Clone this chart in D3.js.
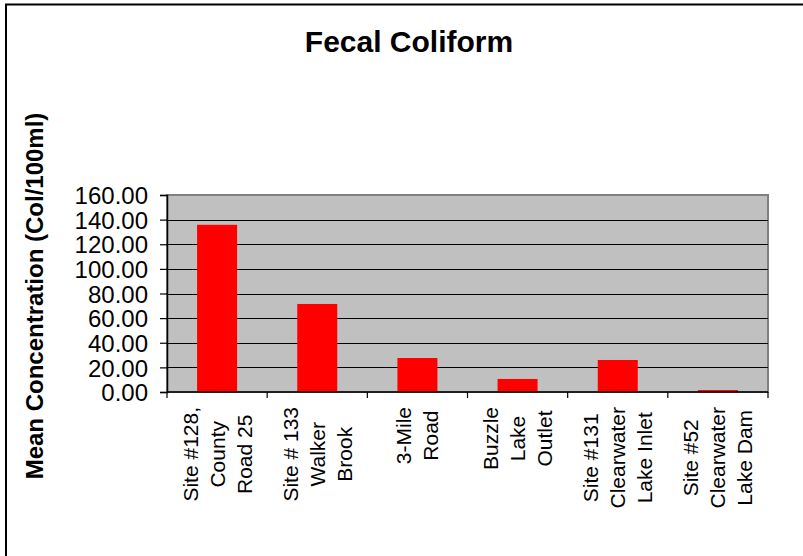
<!DOCTYPE html>
<html>
<head>
<meta charset="utf-8">
<script src="https://cdn.jsdelivr.net/npm/d3@7"></script>
<style>
  html, body { margin: 0; padding: 0; background: #fff; }
  svg { display: block; }
  text { font-family: "Liberation Sans", Arial, sans-serif; fill: #000; }
</style>
</head>
<body>
<svg id="chart" width="803" height="556"></svg>
<script>
// Sampling sites (each entry is one wrapped label, line by line)
const categories = [
  ["Site #128,", "County", "Road 25"],
  ["Site # 133", "Walker", "Brook"],
  ["3-Mile", "Road"],
  ["Buzzle", "Lake", "Outlet"],
  ["Site #131", "Clearwater", "Lake Inlet"],
  ["Site #52", "Clearwater", "Lake Dam"]
];
// Mean fecal coliform concentration (Col/100ml)
const values = [135.8, 71.5, 27.6, 10.6, 26.0, 1.6];
const yTicks = [0, 20, 40, 60, 80, 100, 120, 140, 160];

const svg = d3.select("#chart");
const plot = { left: 167, top: 195, right: 768, bottom: 392 };

// Outer chart frame (runs off the right and bottom edges)
svg.append("rect")
  .attr("x", 6).attr("y", 4.5)
  .attr("width", 820).attr("height", 580)
  .attr("fill", "none").attr("stroke", "#000").attr("stroke-width", 2);

const keys = categories.map((c, i) => i);
const x = d3.scaleBand().domain(keys).range([plot.left, plot.right]).paddingInner(0).paddingOuter(0);
const y = d3.scaleLinear().domain([0, 160]).range([plot.bottom, plot.top]);

// Plot background
svg.append("rect")
  .attr("x", plot.left).attr("y", plot.top)
  .attr("width", plot.right - plot.left).attr("height", plot.bottom - plot.top)
  .attr("fill", "#c0c0c0").attr("stroke", "#808080").attr("stroke-width", 2);

// Horizontal gridlines
svg.append("g").selectAll("line")
  .data(yTicks.filter(t => t > 0 && t < 160))
  .join("line")
  .attr("x1", plot.left).attr("x2", plot.right)
  .attr("y1", d => Math.round(y(d)) + 0.5).attr("y2", d => Math.round(y(d)) + 0.5)
  .attr("stroke", "#000").attr("stroke-width", 1.2);

// Bars
const barW = 40;
svg.append("g").selectAll("rect")
  .data(values)
  .join("rect")
  .attr("x", (d, i) => x(i) + x.bandwidth() / 2 - barW / 2)
  .attr("y", d => y(d))
  .attr("width", barW)
  .attr("height", d => y(0) - y(d))
  .attr("fill", "#ff0000");

// Y axis
const yAxis = d3.axisLeft(y).tickValues(yTicks).tickSize(7).tickPadding(12)
  .tickFormat(d3.format(".2f"));
const gy = svg.append("g").attr("transform", `translate(${plot.left},0)`).call(yAxis);
gy.select(".domain").attr("stroke", "#000").attr("stroke-width", 1.5);
gy.selectAll(".tick line").attr("stroke", "#000").attr("stroke-width", 1.2);
gy.selectAll(".tick text")
  .style("font-family", '"Liberation Sans", Arial, sans-serif')
  .style("font-size", "24px").attr("fill", "#000").attr("dy", "0.36em");

// X axis: ticks at category boundaries, labels drawn separately
const gx = svg.append("g").attr("transform", `translate(0,${plot.bottom})`);
gx.append("line")
  .attr("x1", plot.left).attr("x2", plot.right)
  .attr("y1", 0).attr("y2", 0)
  .attr("stroke", "#000").attr("stroke-width", 1.5);
const bounds = keys.map(k => x(k)).concat([plot.right]);
gx.selectAll("line.tk").data(bounds).join("line")
  .attr("class", "tk")
  .attr("x1", d => d).attr("x2", d => d)
  .attr("y1", 0).attr("y2", 6)
  .attr("stroke", "#000").attr("stroke-width", 1.2);

// Rotated, wrapped category labels
const lineGap = 27;
const labelTop = 407;
categories.forEach((lines, i) => {
  const cx = x(i) + x.bandwidth() / 2;
  const g = svg.append("g");
  const texts = lines.map((ln, j) => {
    const lx = cx + (j - (lines.length - 1) / 2) * lineGap;
    return g.append("text")
      .attr("transform", `translate(${lx},0) rotate(-90)`)
      .attr("text-anchor", "middle")
      .attr("dy", "0.36em")
      .style("font-size", "21px")
      .text(ln);
  });
  const maxLen = d3.max(texts, t => t.node().getComputedTextLength());
  texts.forEach((t, j) => {
    const lx = cx + (j - (lines.length - 1) / 2) * lineGap;
    t.attr("transform", `translate(${lx},${labelTop + maxLen / 2}) rotate(-90)`);
  });
});

// Title
svg.append("text")
  .attr("x", 409).attr("y", 52)
  .attr("text-anchor", "middle")
  .style("font-size", "30px").style("font-weight", "bold")
  .text("Fecal Coliform");

// Y axis title
svg.append("text")
  .attr("transform", "translate(43,296) rotate(-90)")
  .attr("text-anchor", "middle")
  .style("font-size", "24px").style("font-weight", "bold")
  .text("Mean Concentration (Col/100ml)");
</script>
</body>
</html>
